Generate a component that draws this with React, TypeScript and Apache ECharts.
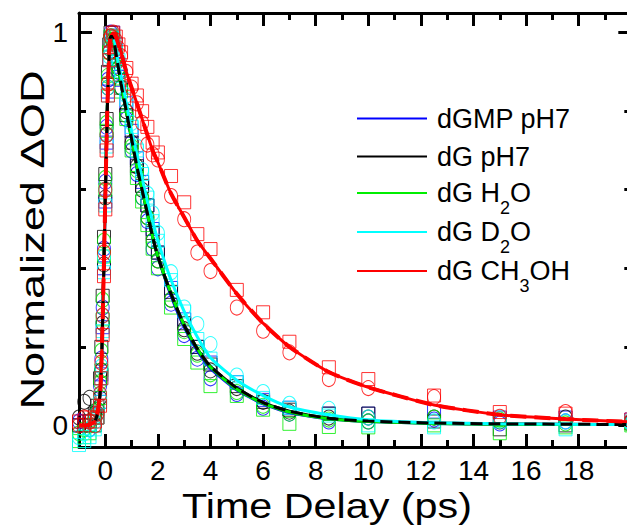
import React, { useEffect, useRef } from 'react';
import * as echarts from 'echarts';

const FONT = '"Liberation Sans", Arial, Helvetica, sans-serif';

// time delays (ps)
const T = [
  -1.0, -0.8, -0.6, -0.4, -0.3, -0.2, -0.15, -0.1, -0.05, 0,
  0.05, 0.1, 0.15, 0.2, 0.3, 0.4, 0.5, 0.6, 0.8, 1.0,
  1.2, 1.4, 1.6, 1.8, 2.0, 2.5, 3.0, 3.5, 4.0, 5.0,
  6.0, 7.0, 8.5, 10, 12.5, 15, 17.5, 20,
];

// fitted curves
const FIT_BLUE = [
  0, 0, 0.002, 0.01, 0.03, 0.08, 0.16, 0.28, 0.43, 0.59,
  0.74, 0.87, 0.95, 0.99, 0.99, 0.95, 0.91, 0.87, 0.80, 0.73,
  0.66, 0.60, 0.54, 0.48, 0.43, 0.33, 0.25, 0.19, 0.145, 0.09,
  0.055, 0.033, 0.017, 0.01, 0.005, 0.003, 0.002, 0.002,
];
const FIT_BLACK = [
  0, 0, 0.002, 0.01, 0.03, 0.08, 0.15, 0.27, 0.42, 0.58,
  0.73, 0.86, 0.95, 0.99, 0.99, 0.95, 0.91, 0.87, 0.80, 0.73,
  0.66, 0.60, 0.54, 0.48, 0.43, 0.335, 0.255, 0.195, 0.15, 0.095,
  0.058, 0.036, 0.018, 0.011, 0.006, 0.004, 0.003, 0.002,
];
const FIT_GREEN = [
  0, 0, 0.002, 0.01, 0.03, 0.09, 0.17, 0.29, 0.44, 0.60,
  0.75, 0.88, 0.96, 1.0, 0.99, 0.95, 0.91, 0.87, 0.80, 0.73,
  0.66, 0.60, 0.54, 0.48, 0.43, 0.335, 0.255, 0.195, 0.148, 0.092,
  0.056, 0.034, 0.017, 0.01, 0.005, 0.003, 0.002, 0.002,
];
const FIT_CYAN = [
  0, 0, 0.002, 0.01, 0.03, 0.08, 0.15, 0.27, 0.42, 0.58,
  0.73, 0.86, 0.95, 0.99, 0.99, 0.96, 0.92, 0.89, 0.82, 0.75,
  0.69, 0.63, 0.57, 0.52, 0.47, 0.37, 0.29, 0.225, 0.172, 0.115,
  0.076, 0.047, 0.027, 0.014, 0.007, 0.004, 0.003, 0.002,
];
const FIT_RED = [
  0, 0, 0.002, 0.01, 0.03, 0.08, 0.15, 0.27, 0.42, 0.58,
  0.73, 0.86, 0.95, 0.99, 1.0, 0.99, 0.97, 0.95, 0.90, 0.86,
  0.82, 0.78, 0.74, 0.70, 0.67, 0.59, 0.53, 0.47, 0.425, 0.335,
  0.26, 0.20, 0.136, 0.097, 0.052, 0.027, 0.016, 0.009,
];

// measured points (circles / squares)
const BLUE_CIRC = [
  0.01, 0.0, -0.01, 0.02, 0.04, 0.10, 0.17, 0.30, 0.45, 0.62,
  0.76, 0.88, 0.96, 1.0, 0.98, 0.95, 0.90, 0.86, 0.78, 0.70,
  0.64, 0.58, 0.52, 0.45, 0.40, 0.31, 0.23, 0.17, 0.12, 0.08,
  0.045, 0.03, 0.01, 0.01, 0.015, 0.005, 0.01, 0.005,
];
const BLUE_SQ = [
  0.0, 0.01, 0.0, 0.0, 0.02, 0.06, 0.13, 0.25, 0.40, 0.57,
  0.72, 0.85, 0.93, 0.98, 1.0, 0.97, 0.92, 0.88, 0.82, 0.75,
  0.68, 0.62, 0.56, 0.50, 0.44, 0.35, 0.27, 0.20, 0.16, 0.11,
  0.065, 0.045, 0.03, 0.03, 0.035, 0.02, 0.02, 0.015,
];
const BLACK_CIRC = [
  0.02, 0.06, 0.07, 0.03, 0.03, 0.07, 0.14, 0.26, 0.41, 0.58,
  0.74, 0.86, 0.95, 0.99, 0.99, 0.96, 0.91, 0.86, 0.80, 0.72,
  0.66, 0.60, 0.53, 0.47, 0.42, 0.32, 0.245, 0.185, 0.14, 0.095,
  0.06, 0.035, 0.02, 0.02, 0.02, 0.01, 0.02, 0.01,
];
const BLACK_SQ = [
  0.0, 0.0, 0.01, 0.03, 0.05, 0.12, 0.20, 0.33, 0.48, 0.64,
  0.78, 0.90, 0.97, 1.0, 0.98, 0.94, 0.90, 0.86, 0.79, 0.72,
  0.66, 0.61, 0.56, 0.49, 0.44, 0.34, 0.26, 0.20, 0.155, 0.10,
  0.06, 0.04, 0.03, 0.03, 0.01, -0.01, 0.0, 0.005,
];
const GREEN_CIRC = [
  -0.02, -0.01, 0.0, 0.02, 0.04, 0.11, 0.19, 0.32, 0.47, 0.63,
  0.77, 0.89, 0.96, 0.99, 0.98, 0.94, 0.91, 0.86, 0.79, 0.71,
  0.65, 0.58, 0.53, 0.47, 0.42, 0.32, 0.24, 0.18, 0.13, 0.085,
  0.05, 0.03, 0.015, 0.01, 0.02, 0.015, 0.005, 0.0,
];
const GREEN_SQ = [
  -0.04, -0.03, -0.02, 0.0, 0.02, 0.07, 0.14, 0.27, 0.43, 0.60,
  0.75, 0.87, 0.95, 0.99, 0.99, 0.95, 0.90, 0.85, 0.78, 0.70,
  0.63, 0.57, 0.51, 0.45, 0.40, 0.30, 0.22, 0.16, 0.10, 0.075,
  0.04, 0.004, -0.004, -0.005, 0.0, -0.02, -0.005, 0.0,
];
const CYAN_CIRC = [
  -0.03, -0.02, -0.01, 0.01, 0.03, 0.08, 0.15, 0.28, 0.43, 0.60,
  0.74, 0.86, 0.94, 0.98, 0.99, 0.96, 0.93, 0.90, 0.84, 0.77,
  0.71, 0.65, 0.59, 0.54, 0.49, 0.39, 0.30, 0.258, 0.207, 0.127,
  0.085, 0.055, 0.042, 0.02, 0.01, 0.02, 0.01, 0.005,
];
const CYAN_SQ = [
  -0.05, -0.04, -0.03, -0.01, 0.02, 0.06, 0.12, 0.24, 0.39, 0.56,
  0.71, 0.84, 0.93, 0.97, 0.99, 0.97, 0.93, 0.89, 0.83, 0.76,
  0.70, 0.64, 0.58, 0.52, 0.47, 0.37, 0.29, 0.22, 0.17, 0.11,
  0.07, 0.045, 0.025, 0.0, -0.005, 0.01, -0.01, 0.01,
];
const RED_CIRC = [
  0.0, 0.02, 0.01, 0.0, 0.03, 0.08, 0.16, 0.28, 0.44, 0.60,
  0.74, 0.87, 0.95, 0.99, 1.0, 0.98, 0.96, 0.94, 0.90, 0.86,
  0.82, 0.77, 0.715, 0.69, 0.677, 0.584, 0.525, 0.44, 0.393, 0.30,
  0.241, 0.186, 0.118, 0.095, 0.072, 0.022, 0.034, 0.012,
];
const RED_SQ = [
  0.01, 0.0, 0.02, 0.01, 0.02, 0.05, 0.12, 0.23, 0.38, 0.55,
  0.70, 0.84, 0.93, 0.98, 1.0, 0.99, 0.97, 0.95, 0.91, 0.87,
  0.84, 0.80, 0.76, 0.72, 0.695, 0.635, 0.568, 0.487, 0.449, 0.345,
  0.288, 0.213, 0.148, 0.118, 0.076, 0.034, 0.03, 0.015,
];

const NAMES = ['dGMP pH7', 'dG pH7', 'dG H2O', 'dG D2O', 'dG CH3OH'];
const COLORS = ['#0000ff', '#000000', '#00ee00', '#00ffff', '#ff0000'];
const LEGEND_LABEL: Record<string, string> = {
  'dGMP pH7': '{n|dGMP pH7}',
  'dG pH7': '{n|dG pH7}',
  'dG H2O': '{n|dG H}{s|2}{n|O}',
  'dG D2O': '{n|dG D}{s|2}{n|O}',
  'dG CH3OH': '{n|dG CH}{s|3}{n|OH}',
};

const X_MAJOR = [0, 2, 4, 6, 8, 10, 12, 14, 16, 18, 20];
const X_LABELS = [0, 2, 4, 6, 8, 10, 12, 14, 16, 18];
const X_MINOR = [1, 3, 5, 7, 9, 11, 13, 15, 17, 19];
const Y_MAJOR = [0, 1];
const Y_MINOR = [0.2, 0.4, 0.6, 0.8];

// layout: centre line (px) of each legend row
const LEGEND_ROW_Y = [117, 155, 193, 232, 271];

const pts = (ys: number[]) => T.map((t, i) => [t, ys[i]]);

function scatter(name: string, ys: number[], color: string, symbol: string, size: number | number[]) {
  return {
    type: 'scatter',
    name,
    data: pts(ys),
    symbol,
    symbolSize: size,
    itemStyle: { color: 'rgba(0,0,0,0)', borderColor: color, borderWidth: 1 },
    silent: true,
  };
}
function fit(name: string, ys: number[], color: string, dashed = false, width = 3) {
  return {
    type: 'line',
    name,
    data: pts(ys),
    showSymbol: false,
    smooth: 0.2,
    color,
    lineStyle: { color, width, type: dashed ? 'dashed' : 'solid' },
    silent: true,
  };
}

const axisCommon = { min: -1, max: 20, type: 'value', splitLine: { show: false } };
const yCommon = { min: -0.055, max: 1.05, type: 'value', splitLine: { show: false } };
const tick = (values: number[], length: number) => ({
  show: true, inside: true, length, customValues: values,
  lineStyle: { color: '#000', width: 3 },
});
const line = { show: true, onZero: false, lineStyle: { color: '#000', width: 3 } };
const noLine = { show: false, onZero: false };
const noLabel = { show: false };

const legendText = {
  color: '#000',
  fontFamily: FONT,
  fontSize: 27,
  padding: [0, 0, 0, 5],
  rich: {
    n: { fontSize: 27, fontFamily: FONT, color: '#000' },
    s: { fontSize: 18, lineHeight: 18, padding: [30, 0, 0, 0], fontFamily: FONT, color: '#000' },
  },
};

const option: any = {
  animation: false,
  backgroundColor: '#fff',
  grid: { left: 79, right: 8.7, top: 13, bottom: 81, containLabel: false },
  xAxis: [
    { ...axisCommon, position: 'bottom', axisLine: line, axisTick: tick(X_MAJOR, 13),
      axisLabel: { customValues: X_LABELS, fontSize: 28, color: '#000', margin: 9, fontFamily: FONT } },
    { ...axisCommon, position: 'bottom', axisLine: noLine, axisTick: tick(X_MINOR, 7), axisLabel: noLabel },
    { ...axisCommon, position: 'top', axisLine: line, axisTick: tick(X_MAJOR, 13), axisLabel: noLabel },
    { ...axisCommon, position: 'top', axisLine: noLine, axisTick: tick(X_MINOR, 7), axisLabel: noLabel },
  ],
  yAxis: [
    { ...yCommon, position: 'left', axisLine: line, axisTick: tick(Y_MAJOR, 13),
      axisLabel: { customValues: Y_MAJOR, fontSize: 28, color: '#000', margin: 11, fontFamily: FONT } },
    { ...yCommon, position: 'left', axisLine: noLine, axisTick: tick(Y_MINOR, 7), axisLabel: noLabel },
    { ...yCommon, position: 'right', axisLine: line, axisTick: tick(Y_MAJOR, 13), axisLabel: noLabel },
    { ...yCommon, position: 'right', axisLine: noLine, axisTick: tick(Y_MINOR, 7), axisLabel: noLabel },
  ],
  legend: NAMES.map((name, i) => ({
    data: [name],
    orient: 'vertical',
    left: 352,
    top: LEGEND_ROW_Y[i] - (LEGEND_LABEL[name].indexOf('{s|') >= 0 ? 29 : 17),
    itemWidth: 70,
    itemHeight: 2,
    icon: 'rect',
    selectedMode: false,
    formatter: (nm: string) => LEGEND_LABEL[nm] || nm,
    textStyle: legendText,
  })),
  graphic: [
    {
      type: 'text', x: 327, y: 506, scaleX: 1.18, silent: true,
      style: { text: 'Time Delay (ps)', fontSize: 35, fontFamily: FONT, fill: '#000', align: 'center', verticalAlign: 'middle' },
    },
    {
      type: 'text', x: 32, y: 240, rotation: Math.PI / 2, scaleX: 1.37, silent: true,
      style: { text: 'Normalized ΔOD', fontSize: 33, fontFamily: FONT, fill: '#000', align: 'center', verticalAlign: 'middle' },
    },
  ],
  series: [
    scatter('blue circles', BLUE_CIRC, COLORS[0], 'circle', [13, 15]),
    scatter('blue squares', BLUE_SQ, COLORS[0], 'rect', 13),
    scatter('black circles', BLACK_CIRC, COLORS[1], 'circle', [13, 15]),
    scatter('black squares', BLACK_SQ, COLORS[1], 'rect', 13),
    scatter('green circles', GREEN_CIRC, COLORS[2], 'circle', [13, 15]),
    scatter('green squares', GREEN_SQ, COLORS[2], 'rect', 13),
    scatter('cyan circles', CYAN_CIRC, COLORS[3], 'circle', [13, 15]),
    scatter('cyan squares', CYAN_SQ, COLORS[3], 'rect', 13),
    scatter('red circles', RED_CIRC, COLORS[4], 'circle', [13, 15]),
    scatter('red squares', RED_SQ, COLORS[4], 'rect', 13),
    fit(NAMES[0], FIT_BLUE, COLORS[0]),
    fit(NAMES[1], FIT_BLACK, COLORS[1]),
    fit(NAMES[2], FIT_GREEN, COLORS[2]),
    fit(NAMES[3], FIT_CYAN, COLORS[3]),
    fit(NAMES[4], FIT_RED, COLORS[4]),
    fit('dG pH7 dashed', FIT_BLACK, COLORS[1], true, 3),
    fit('dG CH3OH dashed', FIT_RED, COLORS[4], true, 4),
  ],
};

export default function App() {
  const ref = useRef<HTMLDivElement>(null);
  useEffect(() => {
    document.body.style.margin = '0';
    const chart = echarts.init(ref.current!, undefined, { renderer: 'svg' });
    chart.setOption(option);
    return () => chart.dispose();
  }, []);
  return (
    <div style={{ position: 'absolute', left: 0, top: 0, width: 627, height: 528, overflow: 'hidden', background: '#fff' }}>
      <div ref={ref} style={{ width: 640, height: 528 }} />
    </div>
  );
}
